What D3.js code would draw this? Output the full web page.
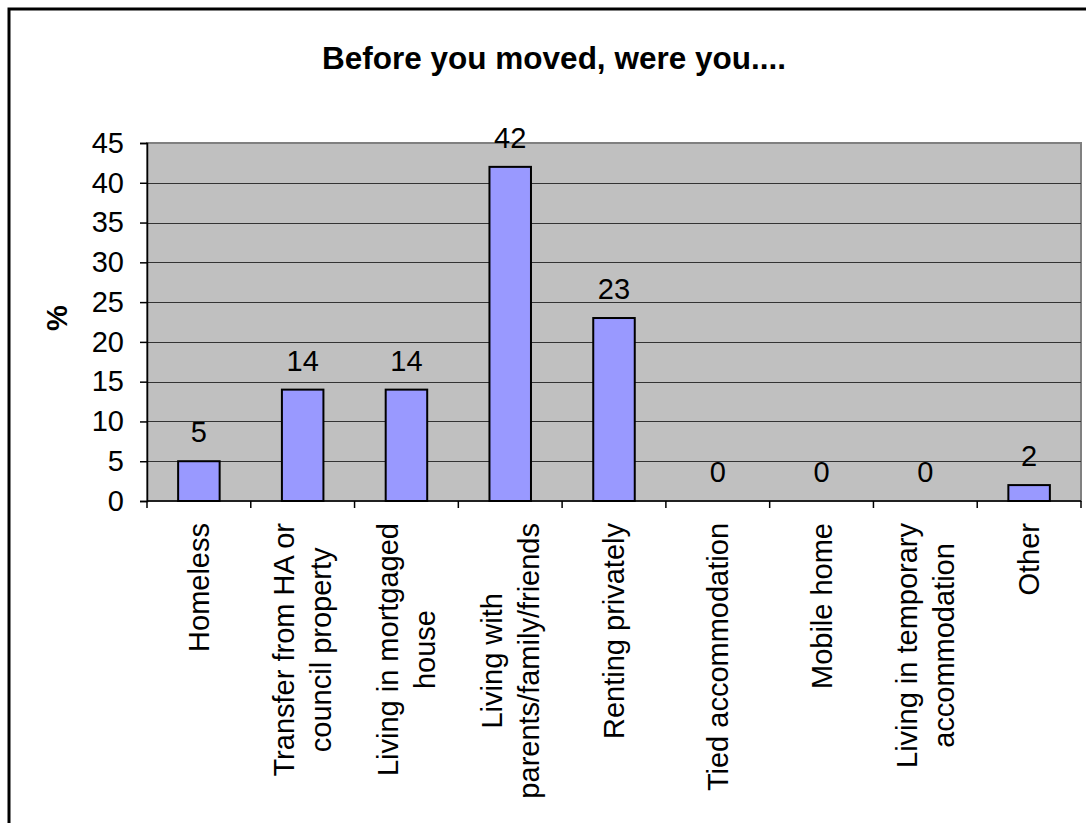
<!DOCTYPE html>
<html>
<head>
<meta charset="utf-8">
<script src="https://cdn.jsdelivr.net/npm/d3@7"></script>
<style>
  html, body { margin: 0; padding: 0; background: #fff; }
  svg { display: block; font-family: "Liberation Sans", Arial, sans-serif; }
</style>
</head>
<body>
<svg id="chart" width="1086" height="823"></svg>
<script>
const titleText = "Before you moved, were you....";
const yLabel = "%";
const categories = [
  ["Homeless"],
  ["Transfer from HA or", "council property"],
  ["Living in mortgaged", "house"],
  ["Living with", "parents/family/friends"],
  ["Renting privately"],
  ["Tied accommodation"],
  ["Mobile home"],
  ["Living in temporary", "accommodation"],
  ["Other"]
];
const values = [5, 14, 14, 42, 23, 0, 0, 0, 2];
const yTicks = [0, 5, 10, 15, 20, 25, 30, 35, 40, 45];

const svg = d3.select("#chart");
const pLeft = 147, pRight = 1081, pTop = 143, pBottom = 501;
const fs = 29;

// outer frame
svg.append("rect").attr("x", 9).attr("y", 9).attr("width", 1200).attr("height", 1000)
  .attr("fill", "#fff").attr("stroke", "#000").attr("stroke-width", 3);

const keys = categories.map((c, i) => i);
const x = d3.scaleBand().domain(keys).range([pLeft, pRight]).paddingInner(0.6).paddingOuter(0.3);
const y = d3.scaleLinear().domain([0, 45]).range([pBottom, pTop]);

// plot area
svg.append("rect").attr("x", pLeft).attr("y", pTop).attr("width", pRight - pLeft).attr("height", pBottom - pTop)
  .attr("fill", "#c0c0c0").attr("stroke", "#808080").attr("stroke-width", 2);

// gridlines
svg.append("g").selectAll("line").data(yTicks.filter(t => t > 0 && t < 45)).join("line")
  .attr("x1", pLeft).attr("x2", pRight)
  .attr("y1", d => Math.round(y(d)) + 0.5).attr("y2", d => Math.round(y(d)) + 0.5)
  .attr("stroke", "#333333").attr("stroke-width", 1);

// bars
svg.append("g").selectAll("rect").data(values).join("rect")
  .attr("x", (d, i) => x(i)).attr("width", x.bandwidth())
  .attr("y", d => y(d)).attr("height", d => y(0) - y(d))
  .attr("fill", "#9999ff").attr("stroke", "#000").attr("stroke-width", 2)
  .attr("display", d => d > 0 ? null : "none");

// value labels
svg.append("g").selectAll("text").data(values).join("text")
  .attr("x", (d, i) => x(i) + x.bandwidth() / 2)
  .attr("y", d => y(d) - 19)
  .attr("text-anchor", "middle").attr("font-size", fs).attr("fill", "#000")
  .text(d => d);

// y axis
const yAxis = d3.axisLeft(y).tickValues(yTicks).tickSize(7).tickPadding(16);
const gy = svg.append("g").attr("transform", `translate(${pLeft},0)`).call(yAxis);
gy.select(".domain").attr("stroke", "#000").attr("stroke-width", 1.5);
gy.selectAll(".tick line").attr("stroke", "#000").attr("stroke-width", 1.5);
gy.selectAll(".tick text").attr("font-size", fs).attr("font-family", "Liberation Sans, Arial, sans-serif").attr("fill", "#000");

// x axis
svg.append("line").attr("x1", pLeft).attr("x2", pRight).attr("y1", pBottom).attr("y2", pBottom)
  .attr("stroke", "#000").attr("stroke-width", 1.5);
const step = x.step();
const bounds = d3.range(categories.length + 1).map(i => pLeft + i * step);
svg.append("g").selectAll("line").data(bounds).join("line")
  .attr("x1", d => d).attr("x2", d => d).attr("y1", pBottom).attr("y2", pBottom + 7)
  .attr("stroke", "#000").attr("stroke-width", 1.5);

// x labels, rotated
const lineGap = 37;
const labelTop = 523;
const lg = svg.append("g");
categories.forEach((lines, i) => {
  const cx = x(i) + x.bandwidth() / 2;
  const t = lg.append("text").attr("font-size", fs).attr("text-anchor", "middle").attr("fill", "#000");
  const tspans = lines.map((ln, j) => t.append("tspan").text(ln));
  const maxW = d3.max(tspans, s => s.node().getComputedTextLength());
  const cy = labelTop + maxW / 2;
  t.attr("transform", `translate(${cx},${cy}) rotate(-90)`);
  const n = lines.length;
  tspans.forEach((s, j) => {
    s.attr("x", 0).attr("y", (j - (n - 1) / 2) * lineGap + fs * 0.35);
  });
});

// title
svg.append("text").attr("x", 554).attr("y", 69).attr("text-anchor", "middle")
  .attr("font-size", 31.5).attr("font-weight", "bold").text(titleText);

// y label
svg.append("text").attr("transform", `translate(${67},${318}) rotate(-90)`)
  .attr("text-anchor", "middle").attr("font-size", fs).attr("font-weight", "bold").text(yLabel);
</script>
</body>
</html>
